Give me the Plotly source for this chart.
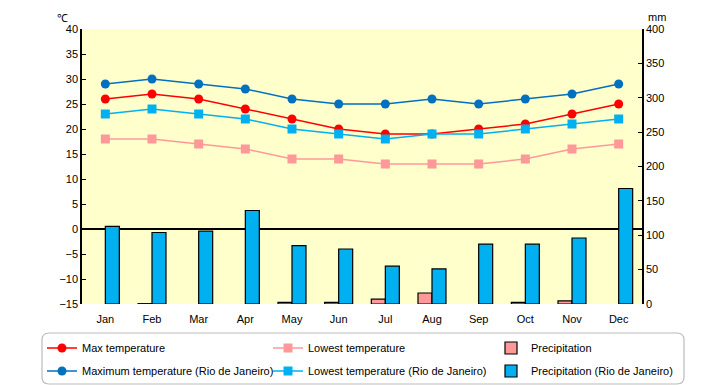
import plotly.graph_objects as go

months = ["Jan", "Feb", "Mar", "Apr", "May", "Jun", "Jul", "Aug", "Sep", "Oct", "Nov", "Dec"]
max_temp = [26, 27, 26, 24, 22, 20, 19, 19, 20, 21, 23, 25]
low_temp = [18, 18, 17, 16, 14, 14, 13, 13, 13, 14, 16, 17]
precip = [None, 0.5, None, None, 2.5, 2.5, 7, 16, None, 2.5, 4.5, None]
rio_max = [29, 30, 29, 28, 26, 25, 25, 26, 25, 26, 27, 29]
rio_low = [23, 24, 23, 22, 20, 19, 18, 19, 19, 20, 21, 22]
rio_precip = [113, 104, 106, 136, 85, 80, 55, 51, 87, 87, 96, 168]

FONT = "Liberation Sans"
W, H = 720, 385
L, R, T, B = 82, 642, 29, 304
PW, PH = R - L, B - T

def px_x(p):
    return (p - L) / PW

def px_y(p):
    return (B - p) / PH

COLS = [42, 268, 491]
ROWS = [348, 371]

fig = go.Figure()
fig.add_trace(go.Bar(x=months, y=precip, name="Precipitation", yaxis="y2",
                     marker=dict(color="#FF9999", line=dict(color="black", width=1.2)),
                     legend="legend3"))
fig.add_trace(go.Bar(x=months, y=rio_precip, name="Precipitation (Rio de Janeiro)", yaxis="y2",
                     marker=dict(color="#00B0F0", line=dict(color="black", width=1.2)),
                     legend="legend6"))
fig.add_trace(go.Scatter(x=months, y=low_temp, name="Lowest temperature", mode="lines+markers",
                         line=dict(color="#FF9999", width=1.5),
                         marker=dict(symbol="square", size=9, color="#FF9999"),
                         legend="legend2"))
fig.add_trace(go.Scatter(x=months, y=max_temp, name="Max temperature", mode="lines+markers",
                         line=dict(color="#FF0000", width=1.5),
                         marker=dict(symbol="circle", size=9, color="#FF0000"),
                         legend="legend"))
fig.add_trace(go.Scatter(x=months, y=rio_low, name="Lowest temperature (Rio de Janeiro)", mode="lines+markers",
                         line=dict(color="#00B0F0", width=1.5),
                         marker=dict(symbol="square", size=9, color="#00B0F0"),
                         legend="legend5"))
fig.add_trace(go.Scatter(x=months, y=rio_max, name="Maximum temperature (Rio de Janeiro)", mode="lines+markers",
                         line=dict(color="#0070C0", width=1.5),
                         marker=dict(symbol="circle", size=9, color="#0070C0"),
                         legend="legend4"))

# rounded legend box
x0, x1, y0, y1, r = 42, 684, 333, 384, 7
path = (f"M {px_x(x0 + r)},{px_y(y0)} L {px_x(x1 - r)},{px_y(y0)} "
        f"Q {px_x(x1)},{px_y(y0)} {px_x(x1)},{px_y(y0 + r)} "
        f"L {px_x(x1)},{px_y(y1 - r)} Q {px_x(x1)},{px_y(y1)} {px_x(x1 - r)},{px_y(y1)} "
        f"L {px_x(x0 + r)},{px_y(y1)} Q {px_x(x0)},{px_y(y1)} {px_x(x0)},{px_y(y1 - r)} "
        f"L {px_x(x0)},{px_y(y0 + r)} Q {px_x(x0)},{px_y(y0)} {px_x(x0 + r)},{px_y(y0)} Z")

leg_common = dict(orientation="h", bgcolor="rgba(0,0,0,0)", borderwidth=0,
                  font=dict(family=FONT, size=11, color="black"),
                  xanchor="left", yanchor="middle", itemwidth=30)

legends = {}
names = ["legend", "legend2", "legend3", "legend4", "legend5", "legend6"]
for i, nm in enumerate(names):
    legends[nm] = dict(x=px_x(COLS[i % 3]), y=px_y(ROWS[i // 3]), **leg_common)

fig.update_layout(
    width=W, height=H,
    margin=dict(l=L, r=W - R, t=T, b=H - B, pad=0, autoexpand=False),
    paper_bgcolor="white", plot_bgcolor="#FFFFCC",
    font=dict(family=FONT, size=11, color="black"),
    barmode="group", bargap=0.4, bargroupgap=0,
    showlegend=True,
    xaxis=dict(range=[-0.5, 11.5], showgrid=False, showline=False, ticks="outside",
               ticklen=5, tickcolor="rgba(0,0,0,0)", tickfont=dict(size=11)),
    yaxis=dict(range=[-15, 40], dtick=5, showgrid=False, showline=True, linecolor="black",
               linewidth=1.5, ticks="inside", ticklen=4, tickcolor="black",
               zeroline=True, zerolinecolor="black", zerolinewidth=1.5,
               tickfont=dict(size=11)),
    yaxis2=dict(range=[0, 400], dtick=50, overlaying="y", side="right", showgrid=False,
                showline=True, linecolor="black", linewidth=1.5, ticks="inside", ticklen=4,
                tickcolor="black", zeroline=False, tickfont=dict(size=11)),
    shapes=[dict(type="path", xref="paper", yref="paper", path=path,
                 line=dict(color="#BBBBBB", width=1.2), fillcolor="rgba(0,0,0,0)")],
    annotations=[
        dict(text="℃", xref="paper", yref="paper", x=px_x(55), y=px_y(10), showarrow=False,
             font=dict(size=11)),
        dict(text="mm", xref="paper", yref="paper", x=px_x(668), y=px_y(9), showarrow=False,
             font=dict(size=11)),
    ],
    **legends,
)

fig.write_html("out.html", config={"displayModeBar": False},
               post_script="document.body.style.margin='0';document.body.style.overflow='hidden';")
